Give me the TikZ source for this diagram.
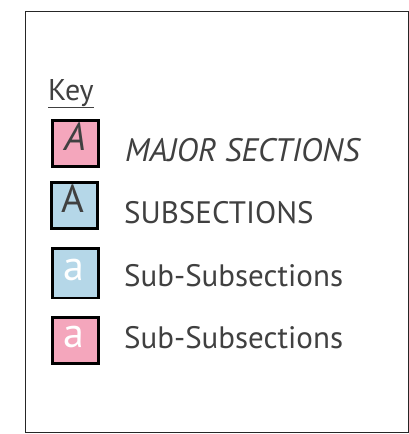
\documentclass[tikz,border=0pt]{standalone}
\usepackage{fontspec}
\setmainfont{PT Sans}
\definecolor{pinkfill}{HTML}{F4A6BC}
\definecolor{bluefill}{HTML}{B5D7E8}
\definecolor{txt}{HTML}{404040}
\begin{document}
\begin{tikzpicture}[x=1pt,y=-1pt,
  keybox/.style={draw=black,line width=2.6pt,inner sep=0pt,anchor=north west},
  lbl/.style={anchor=base west,inner sep=0pt,text=txt,font=\fontsize{31}{31}\selectfont},
  boxletter/.style={anchor=base,inner sep=0pt,font=\fontsize{42}{42}\selectfont},
  capletter/.style={anchor=base,inner sep=0pt,font=\fontsize{39}{39}\selectfont}]
\useasboundingbox (0,0) rectangle (409,434);
\draw[line width=1.4pt,color=black!85] (25.5,11.5) rectangle (408.3,432.5);
\node[anchor=base west,inner sep=0pt,text=txt,font=\fontsize{30}{30}\selectfont] (key) at (48,100) {\underline{Key}};
% boxes
\node[keybox,fill=pinkfill,minimum width=46pt,minimum height=46pt] (b1) at (51.3,119) {};
\node[keybox,fill=bluefill,minimum width=46pt,minimum height=46pt] (b2) at (50,181.3) {};
\node[keybox,fill=bluefill,minimum width=46pt,minimum height=49.5pt] (b3) at (51.3,247.3) {};
\node[keybox,fill=pinkfill,minimum width=46pt,minimum height=46pt] (b4) at (51.3,316.3) {};
% letters
\node[capletter,text=txt] (l1) at (75,150) {\itshape A};
\node[capletter,text=txt] (l2) at (72.5,212.3) {A};
\node[boxletter,text=white] (l3) at (73.5,280) {a};
\node[boxletter,text=white] (l4) at (73.5,347) {a};
% labels
\node[lbl,font=\fontsize{32.5}{32.5}\selectfont\itshape] (t1) at (125,161.7) {MAJOR SECTIONS};
\node[lbl] (t2) at (124,223) {SUBSECTIONS};
\node[lbl] (t3) at (124,286.7) {Sub-Subsections};
\node[lbl] (t4) at (124,348.3) {Sub-Subsections};
\end{tikzpicture}
\end{document}
